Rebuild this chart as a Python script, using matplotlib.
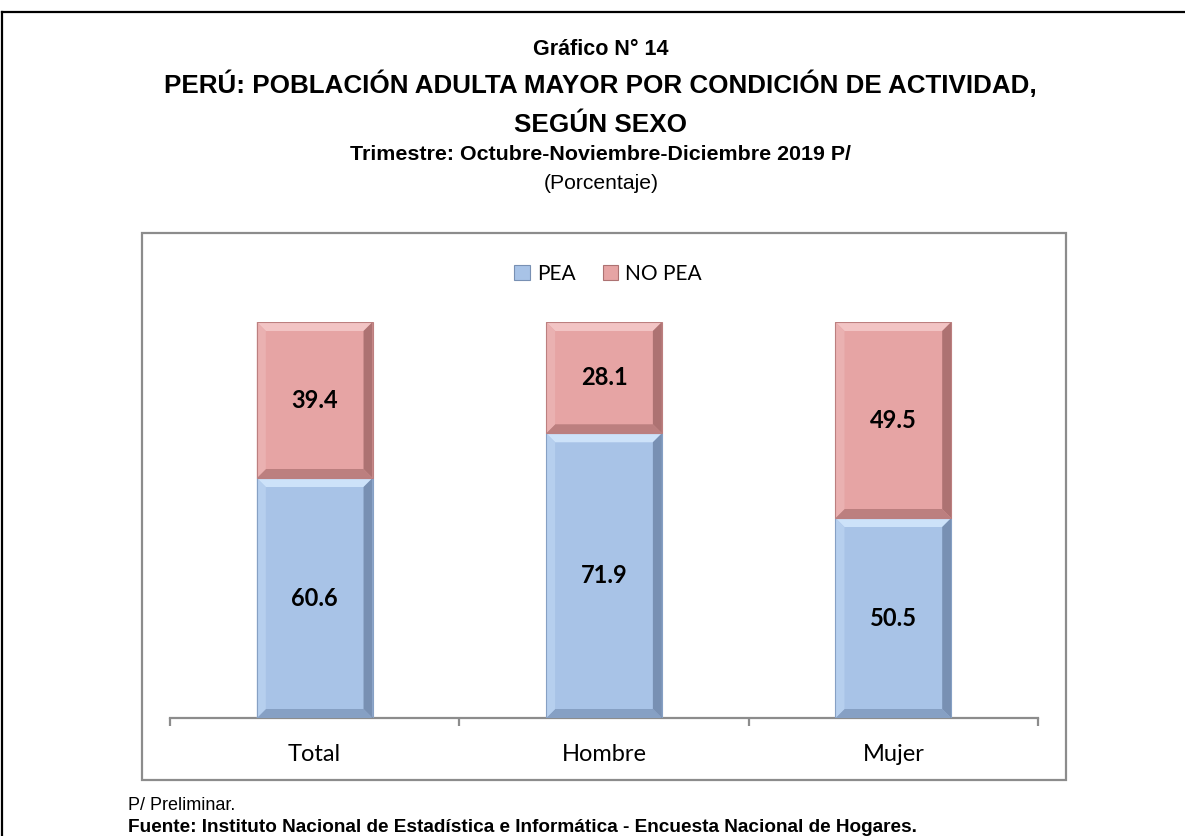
import matplotlib
matplotlib.use("Agg")
import matplotlib.pyplot as plt
from matplotlib.patches import Rectangle, Polygon, Patch
from matplotlib.lines import Line2D
import matplotlib.font_manager as fm

categories = ["Total", "Hombre", "Mujer"]
pea = [60.6, 71.9, 50.5]
no_pea = [39.4, 28.1, 49.5]
series_names = ["PEA", "NO PEA"]

W, H = 1185, 836
fig = plt.figure(figsize=(W / 100, H / 100), dpi=100)

avail = {f.name for f in fm.fontManager.ttflist}
NARROW = [f for f in ["Liberation Sans Narrow", "Liberation Sans", "DejaVu Sans"] if f in avail]
BODY = [f for f in ["Lato", "Open Sans", "DejaVu Sans"] if f in avail]

def fy(px):
    return 1 - px / H

def fx(px):
    return px / W

# outer frame
fig.add_artist(Line2D([fx(2), 1.0], [fy(12), fy(12)], color="black", lw=1.6))
fig.add_artist(Line2D([fx(2), fx(2)], [fy(12), 0.0], color="black", lw=1.6))
# inner chart frame
fig.add_artist(Rectangle((fx(142), fy(780)), fx(1066) - fx(142), fy(233) - fy(780),
                         transform=fig.transFigure, fill=False, edgecolor="#8c8c8c", lw=1.6))

# titles
fig.text(fx(601), fy(55), "Gráfico N° 14", ha="center", va="baseline",
         family=NARROW, weight="bold", fontsize=15.5)
fig.text(fx(600), fy(93), "PERÚ: POBLACIÓN ADULTA MAYOR POR CONDICIÓN DE ACTIVIDAD,", ha="center",
         va="baseline", family=NARROW, weight="bold", fontsize=18.7)
fig.text(fx(601), fy(132), "SEGÚN SEXO", ha="center", va="baseline",
         family=NARROW, weight="bold", fontsize=18.8)
fig.text(fx(600), fy(160), "Trimestre: Octubre-Noviembre-Diciembre 2019 P/", ha="center",
         va="baseline", family=NARROW, weight="bold", fontsize=15.4)
fig.text(fx(601), fy(189), "(Porcentaje)", ha="center", va="baseline",
         family=NARROW, fontsize=15.2)

# footer
fig.text(fx(128), fy(810), "P/ Preliminar.", ha="left", va="baseline",
         family=NARROW, fontsize=13)
fig.text(fx(128), fy(832),
         "Fuente: Instituto Nacional de Estadística e Informática - Encuesta Nacional de Hogares.",
         ha="left", va="baseline", family=NARROW, weight="bold", fontsize=13.7)

# axes
ax = fig.add_axes([fx(170), fy(718), fx(1038) - fx(170), fy(322) - fy(718)])
ax.set_xlim(-0.5, 2.5)
ax.set_ylim(0, 100)
ax.patch.set_alpha(0)
for s in ["top", "right", "left"]:
    ax.spines[s].set_visible(False)
ax.spines["bottom"].set_color("#8c8c8c")
ax.spines["bottom"].set_linewidth(1.6)
ax.set_yticks([])
x = list(range(len(categories)))
ax.set_xticks(x)
ax.set_xticklabels(categories, family=BODY, fontsize=17)
ax.tick_params(axis="x", which="major", length=0, pad=18.5)
ax.set_xticks([-0.5, 0.5, 1.5, 2.5], minor=True)
ax.tick_params(axis="x", which="minor", length=6, width=1.6, color="#8c8c8c", direction="out")

bw = 0.40
blue = dict(face="#a8c3e7", top="#cde2f9", left="#b6cfee", bottom="#86a0c4", right="#7890b3")
red = dict(face="#e6a4a4", top="#f2c4c4", left="#eab1b1", bottom="#bc7f7f", right="#ad7272")

b1 = ax.bar(x, pea, width=bw, color=blue["face"], edgecolor="none", zorder=2)
b2 = ax.bar(x, no_pea, width=bw, bottom=pea, color=red["face"], edgecolor="none", zorder=2)

# bevel effect derived from bar geometry
px_x = 3.0 / (1038 - 170)
px_y = 100.0 / (718 - 322)
bev = 9
for bars, pal in [(b1, blue), (b2, red)]:
    for p in bars:
        x0, y0, w, h = p.get_x(), p.get_y(), p.get_width(), p.get_height()
        x1, y1 = x0 + w, y0 + h
        dx, dy = bev * px_x, bev * px_y
        polys = [
            ([(x0, y1), (x1, y1), (x1 - dx, y1 - dy), (x0 + dx, y1 - dy)], pal["top"]),
            ([(x0, y0), (x1, y0), (x1 - dx, y0 + dy), (x0 + dx, y0 + dy)], pal["bottom"]),
            ([(x0, y0), (x0, y1), (x0 + dx, y1 - dy), (x0 + dx, y0 + dy)], pal["left"]),
            ([(x1, y0), (x1, y1), (x1 - dx, y1 - dy), (x1 - dx, y0 + dy)], pal["right"]),
        ]
        for pts, c in polys:
            ax.add_patch(Polygon(pts, closed=True, facecolor=c, edgecolor="none", zorder=3))
        ax.add_patch(Rectangle((x0, y0), w, h, fill=False, edgecolor=pal["bottom"], lw=0.8, zorder=4))

for bars, vals in [(b1, pea), (b2, no_pea)]:
    for p, v in zip(bars, vals):
        ax.text(p.get_x() + p.get_width() / 2, p.get_y() + p.get_height() / 2, f"{v:.1f}",
                ha="center", va="center", family=BODY, weight="bold", fontsize=17, zorder=5)

handles = [Patch(facecolor=blue["face"], edgecolor=blue["right"], lw=0.8),
           Patch(facecolor=red["face"], edgecolor=red["right"], lw=0.8)]
fig.legend(handles, series_names, loc="center", bbox_to_anchor=(fx(608), fy(274)), ncol=2,
           frameon=False, prop={"family": BODY, "size": 15}, handlelength=0.75, handleheight=0.75,
           handletextpad=0.35, columnspacing=1.3)

fig.savefig("out.png", dpi=100)
